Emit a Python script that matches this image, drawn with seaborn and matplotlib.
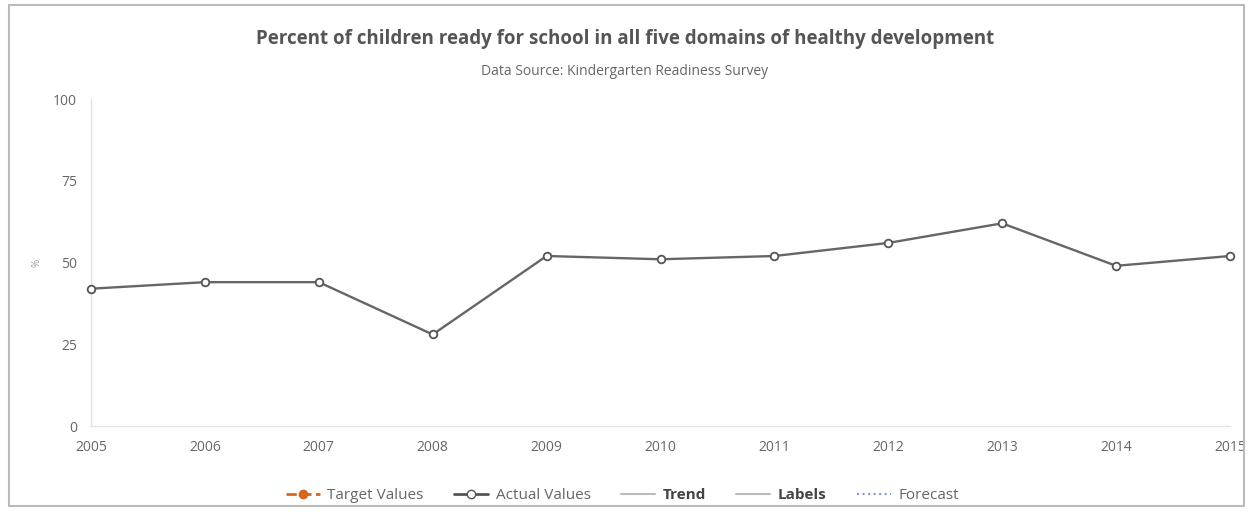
# Kindergarten readiness chart
import matplotlib
matplotlib.use('Agg')
import matplotlib.pyplot as plt
from matplotlib.lines import Line2D
from matplotlib.patches import Rectangle
import pandas as pd
import seaborn as sns

sns.set_style('white')
plt.rcParams['font.family'] = ['Open Sans', 'DejaVu Sans']

years = [2005, 2006, 2007, 2008, 2009, 2010, 2011, 2012, 2013, 2014, 2015]
actual = [42, 44, 44, 28, 52, 51, 52, 56, 62, 49, 52]
y_ticks = [0, 25, 50, 75, 100]

df = pd.DataFrame({'Year': years, 'Actual': actual})

fig = plt.figure(figsize=(12.5, 5.16), dpi=100)
ax = fig.add_axes([0.0728, 0.1744, 0.9112, 0.6336])

sns.lineplot(data=df, x='Year', y='Actual', ax=ax, color='#666666', linewidth=1.7,
             marker='o', markersize=5.5, markerfacecolor='white',
             markeredgecolor='#555555', markeredgewidth=1.3, clip_on=False, zorder=5)

ax.set_xlim(years[0], years[-1])
ax.set_ylim(0, 100)
ax.set_xticks(years)
ax.set_yticks(y_ticks)
ax.tick_params(axis='both', colors='#dddddd', labelcolor='#666666', labelsize=10)
ax.tick_params(axis='x', length=0, pad=10)
ax.tick_params(axis='y', length=8, width=1, pad=2)
for side in ['top', 'right']:
    ax.spines[side].set_visible(False)
for side in ['left', 'bottom']:
    ax.spines[side].set_color('#e3e3e3')
    ax.spines[side].set_linewidth(1)
ax.set_xlabel('')
ax.set_ylabel('%', color='#999999', fontsize=7, labelpad=8)

fig.text(0.5, 0.925, 'Percent of children ready for school in all five domains of healthy development',
         ha='center', va='center', fontsize=13.5, fontweight='bold', color='#555555')
fig.text(0.5, 0.862, 'Data Source: Kindergarten Readiness Survey',
         ha='center', va='center', fontsize=10, color='#666666')

# legend
handles = [
    Line2D([], [], color='#d2691e', linestyle='--', marker='o', markersize=6,
           markerfacecolor='#d2691e', linewidth=2),
    Line2D([], [], color='#555555', marker='o', markersize=6, markerfacecolor='white',
           linewidth=2),
    Line2D([], [], color='#bbbbbb', linewidth=1.5),
    Line2D([], [], color='#bbbbbb', linewidth=1.5),
    Line2D([], [], color='#8899cc', linestyle=':', linewidth=1.5),
]
labels = ['Target Values', 'Actual Values', 'Trend', 'Labels', 'Forecast']
leg = fig.legend(handles, labels, loc='center', bbox_to_anchor=(0.498, 0.040), ncol=5,
                 frameon=False, fontsize=11, handlelength=2.2, columnspacing=2.0,
                 handletextpad=0.5)
for t in leg.get_texts():
    t.set_color('#666666')
    if t.get_text() in ('Trend', 'Labels'):
        t.set_fontweight('bold')
        t.set_color('#444444')

# outer frame
fig.patches.append(Rectangle((0.007, 0.02), 0.988, 0.97, transform=fig.transFigure,
                             fill=False, edgecolor='#bbbbbb', linewidth=1.5))

fig.savefig('out.png', dpi=100)
